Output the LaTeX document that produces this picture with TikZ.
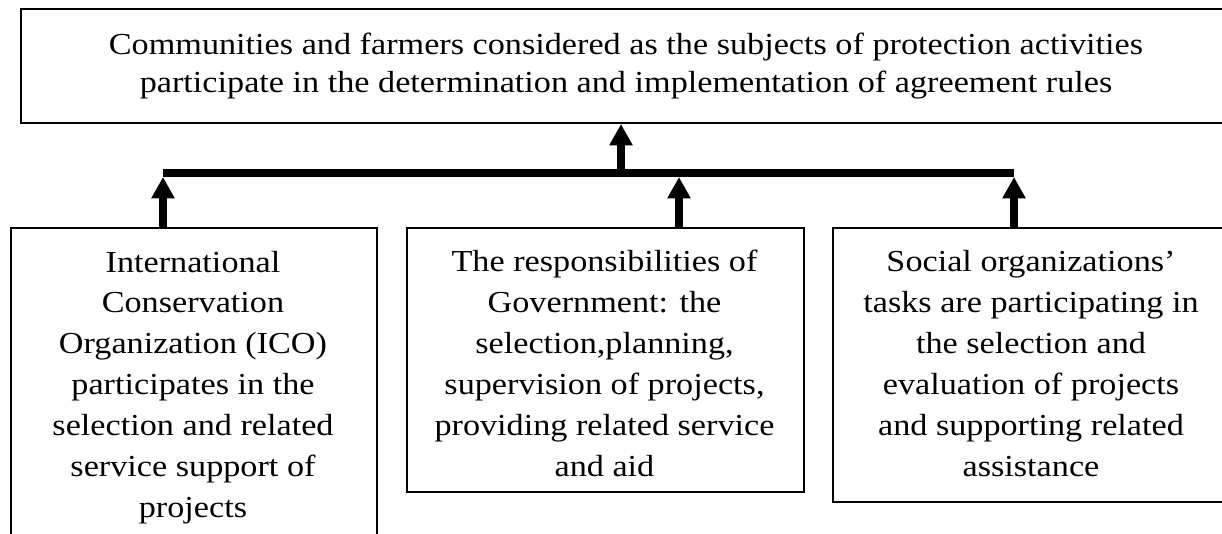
\documentclass[tikz,border=0pt]{standalone}
\usepackage{fontspec}
\setmainfont{Liberation Serif}[FakeStretch=1.12]
\usetikzlibrary{arrows.meta}
\tikzset{
  boxnode/.style={draw=black, line width=1.5pt, rectangle, inner sep=0pt, anchor=north west},
  topfont/.style={font=\fontsize{22.9}{28.5}\selectfont, align=center, inner sep=0pt, anchor=base},
  lowfont/.style={font=\fontsize{22.9}{30.75}\selectfont, align=center, inner sep=0pt, anchor=base},
  arr/.style={line width=6pt, -{Triangle[width=16.5pt,length=16pt]}},
  barline/.style={line width=6pt}
}
\begin{document}
\begin{tikzpicture}[x=0.75pt,y=-0.75pt]
\useasboundingbox[fill=white] (0,0) rectangle (1222,534);
% boxes
\node[boxnode, minimum width=1212*0.75pt, minimum height=114*0.75pt] (top) at (20,8) {};
\node[boxnode, minimum width=366.5*0.75pt, minimum height=330*0.75pt] (ico) at (9.5,227) {};
\node[boxnode, minimum width=397*0.75pt, minimum height=264*0.75pt] (gov) at (406,227) {};
\node[boxnode, minimum width=398*0.75pt, minimum height=274*0.75pt] (soc) at (832,227) {};
% texts (anchor = baseline of the last line)
\node[topfont] (toptext) at (626,93) {Communities and farmers considered as the subjects of protection activities\\participate in the determination and implementation of agreement rules};
\node[lowfont] (icotext) at (193,518) {International\\Conservation\\Organization (ICO)\\participates in the\\selection and related\\service support of\\projects};
\node[lowfont] (govtext) at (604.5,477) {The responsibilities of\\Government: the\\selection,planning,\\supervision of projects,\\providing related service\\and aid};
\node[lowfont] (soctext) at (1031,477) {Social organizations'\\tasks are participating in\\the selection and\\evaluation of projects\\and supporting related\\assistance};
% junction coordinates on the bar
\coordinate (bl) at (163,173);
\coordinate (br) at (1014,173);
\coordinate (j1) at (163,177);
\coordinate (j2) at (679,177);
\coordinate (j3) at (1014,177);
\coordinate (jm) at (621,169);
% bar
\draw[barline] (bl) -- (br);
% arrows
\draw[arr] (jm) -- (jm |- top.south);
\draw[arr] (ico.north -| j1) -- (j1);
\draw[arr] (gov.north -| j2) -- (j2);
\draw[arr] (soc.north -| j3) -- (j3);
\end{tikzpicture}
\end{document}
